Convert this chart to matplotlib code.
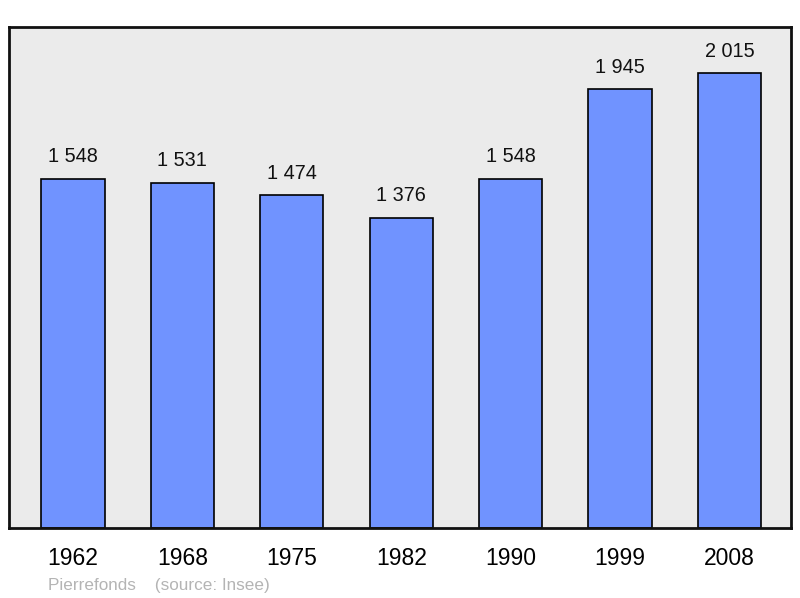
import matplotlib.pyplot as plt

# population data
years = ['1962', '1968', '1975', '1982', '1990', '1999', '2008']
population = [1548, 1531, 1474, 1376, 1548, 1945, 2015]
value_labels = ['1 548', '1 531', '1 474', '1 376', '1 548', '1 945', '2 015']

plt.rcParams['font.family'] = ['Liberation Sans', 'DejaVu Sans']

fig = plt.figure(figsize=(8, 5.98), dpi=100)
ax = fig.add_axes([0.01125, 0.117, 0.9775, 0.8378])
ax.set_facecolor('#ebebeb')

pos = list(range(len(years)))
ax.bar(pos, population, width=0.576, color='#7093ff', edgecolor='black', linewidth=1.2, zorder=2)

for x, v, lab in zip(pos, population, value_labels):
    ax.text(x, v + 55, lab, ha='center', va='bottom', fontsize=14.3, color='#111111')

ax.set_xlim(-0.585, 6.563)
ax.set_ylim(0, 2220)
ax.set_yticks([])
ax.set_xticks(pos)
ax.set_xticklabels(years, fontsize=16.5)
ax.tick_params(axis='x', length=0, pad=14)
for s in ax.spines.values():
    s.set_linewidth(2)
    s.set_color('#111111')

fig.text(0.06, 0.013, 'Pierrefonds    (source: Insee)', fontsize=12.3, color='#b4b4b4')

fig.savefig('out.png', dpi=100)
